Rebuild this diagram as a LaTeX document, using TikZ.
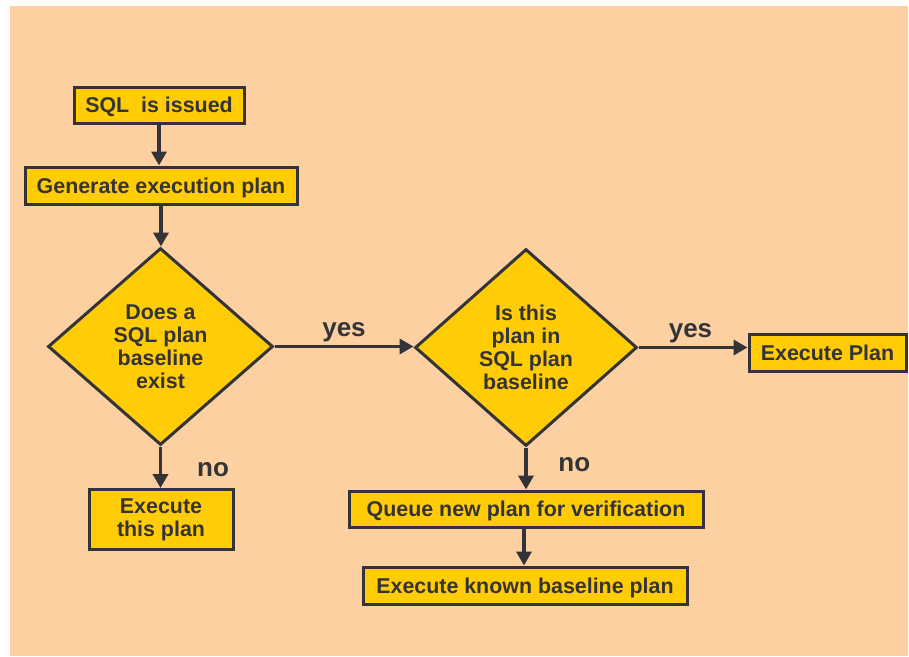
\documentclass[tikz,border=0pt]{standalone}
\usepackage{fontspec}
\setmainfont{Liberation Sans}
\usetikzlibrary{shapes.geometric,arrows.meta}
\definecolor{peach}{HTML}{FCD0A1}
\definecolor{gold}{HTML}{FFCC05}
\definecolor{ink}{HTML}{333338}
\tikzset{
  box/.style={draw=ink, fill=gold, line width=3pt, text=ink, font=\bfseries\fontsize{21.4}{23}\selectfont, align=center, inner sep=0pt},
  oneline/.style={box, text height=15.3pt, text depth=0pt},
  decision/.style={draw=ink, fill=gold, line width=3pt, text=ink, font=\bfseries\fontsize{21.4}{23}\selectfont, align=center, shape=diamond, inner sep=0pt, aspect=1.14},
  arr/.style={draw=ink, line width=3.5pt, -{Triangle[length=14pt,width=15pt]}},
  lbl/.style={text=ink, font=\bfseries\fontsize{26}{28}\selectfont, inner sep=0pt, anchor=base}
}
\begin{document}
\begin{tikzpicture}[x=1pt,y=-1pt]
\useasboundingbox (0,0) rectangle (909,656);
\fill[peach] (10,6) rectangle (908,656);
\node[oneline, minimum width=170pt, minimum height=36pt] (sql) at (159,105.3) {SQL\ \ is issued};
\node[oneline, minimum width=272pt, minimum height=37pt] (gen) at (161,185.5) {Generate execution plan};
\node[decision, minimum width=225pt, minimum height=197pt] (d1) at (160.5,346.5) {Does a\\SQL plan\\baseline\\exist};
\node[decision, minimum width=222pt, minimum height=197pt] (d2) at (526,347.5) {Is this\\plan in\\SQL plan\\baseline};
\node[oneline, minimum width=157pt, minimum height=37pt] (plan) at (827.5,352.5) {Execute Plan};
\node[box, minimum width=144pt, minimum height=60pt] (this) at (161,519.5) {Execute\\this plan};
\node[oneline, minimum width=354pt, minimum height=36pt] (queue) at (526,509) {Queue new plan for verification};
\node[oneline, minimum width=324pt, minimum height=37pt] (known) at (525,585.5) {Execute known baseline plan};
\draw[arr] (sql.south) -- (sql.south |- gen.north);
\draw[arr] (gen.south) -- (gen.south |- d1.north);
\draw[arr] (d1.east) -- (d1.east -| d2.west);
\draw[arr] (d2.east) -- (d2.east -| plan.west);
\draw[arr] (d1.south) -- (d1.south |- this.north);
\draw[arr] (d2.south) -- (d2.south |- queue.north);
\draw[arr] ([xshift=-2pt]queue.south) -- ([xshift=-2pt]queue.south |- known.north);
\node[lbl] (y1) at (344,336.7) {yes};
\node[lbl] (y2) at (690.5,337.3) {yes};
\node[lbl] (n1) at (213,476) {no};
\node[lbl] (n2) at (574.3,471) {no};
\end{tikzpicture}
\end{document}
